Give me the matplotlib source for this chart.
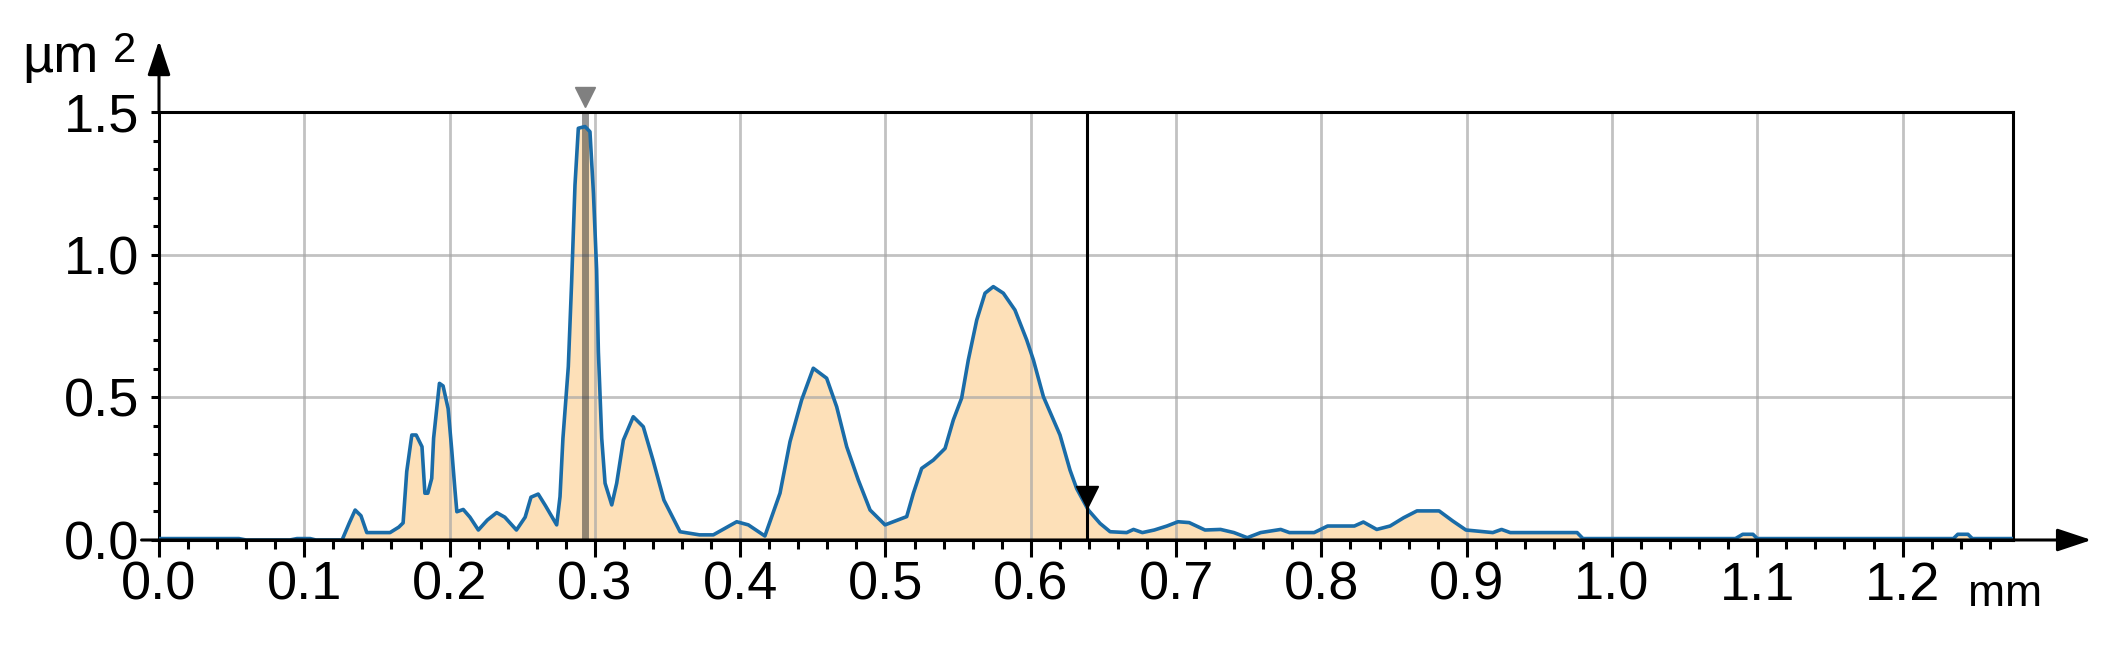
import numpy as np
import matplotlib
matplotlib.use("Agg")
import matplotlib.pyplot as plt
from matplotlib.ticker import MultipleLocator, FormatStrFormatter

plt.rcParams["font.family"] = ["Liberation Sans", "DejaVu Sans"]

# Power spectrum values (x in mm, y in um^2)
pos_mm = [0.000, 0.055, 0.060, 0.090, 0.095, 0.104, 0.108, 0.126, 0.131, 0.135,
          0.139, 0.143, 0.159, 0.165, 0.168, 0.1705, 0.174, 0.177, 0.181, 0.183,
          0.185, 0.1877, 0.189, 0.193, 0.1955, 0.199, 0.2014, 0.2037, 0.205, 0.2094,
          0.214, 0.2198, 0.226, 0.2324, 0.238, 0.246, 0.252, 0.256, 0.261, 0.266,
          0.2737, 0.276, 0.278, 0.2817, 0.284, 0.2863, 0.2886, 0.2932, 0.2966, 0.299,
          0.3012, 0.3024, 0.3047, 0.307, 0.3116, 0.315, 0.3196, 0.3264, 0.3333, 0.340,
          0.3475, 0.3586, 0.372, 0.3815, 0.3976, 0.4056, 0.417, 0.4274, 0.4343, 0.4423,
          0.4503, 0.4595, 0.4664, 0.4733, 0.4813, 0.4894, 0.4997, 0.5146, 0.5192, 0.5249,
          0.5329, 0.541, 0.5467, 0.5524, 0.557, 0.5628, 0.5685, 0.5742, 0.5811, 0.5891,
          0.5972, 0.6018, 0.6087, 0.6201, 0.627, 0.6316, 0.6396, 0.6477, 0.6546, 0.666,
          0.6707, 0.6768, 0.685, 0.6937, 0.7013, 0.709, 0.7199, 0.7306, 0.7398, 0.749,
          0.7582, 0.772, 0.778, 0.795, 0.8043, 0.8227, 0.8289, 0.8381, 0.8473, 0.8566,
          0.8658, 0.881, 0.8903, 0.8995, 0.918, 0.924, 0.930, 0.976, 0.980, 1.085,
          1.090, 1.097, 1.100, 1.235, 1.238, 1.245, 1.248, 1.276]
power = [0.005, 0.005, 0.000, 0.000, 0.005, 0.005, 0.000, 0.000, 0.060, 0.105,
         0.085, 0.026, 0.026, 0.045, 0.060, 0.240, 0.368, 0.368, 0.327, 0.164,
         0.164, 0.216, 0.357, 0.549, 0.540, 0.460, 0.320, 0.175, 0.099, 0.107,
         0.080, 0.035, 0.070, 0.096, 0.080, 0.035, 0.080, 0.150, 0.161, 0.120,
         0.053, 0.152, 0.356, 0.607, 0.905, 1.244, 1.443, 1.449, 1.431, 1.215,
         0.946, 0.660, 0.356, 0.199, 0.123, 0.199, 0.350, 0.432, 0.397, 0.280,
         0.140, 0.029, 0.018, 0.018, 0.064, 0.053, 0.014, 0.164, 0.345, 0.491,
         0.602, 0.567, 0.467, 0.327, 0.210, 0.105, 0.053, 0.082, 0.164, 0.251,
         0.280, 0.321, 0.421, 0.497, 0.631, 0.771, 0.865, 0.888, 0.865, 0.806,
         0.701, 0.631, 0.502, 0.368, 0.245, 0.180, 0.105, 0.058, 0.029, 0.026,
         0.037, 0.026, 0.035, 0.049, 0.064, 0.061, 0.035, 0.037, 0.026, 0.008,
         0.026, 0.037, 0.026, 0.026, 0.049, 0.049, 0.063, 0.037, 0.049, 0.078,
         0.102, 0.102, 0.067, 0.035, 0.026, 0.037, 0.026, 0.026, 0.005, 0.005,
         0.020, 0.020, 0.005, 0.005, 0.020, 0.020, 0.005, 0.005]

x_ticks = [0.0, 0.1, 0.2, 0.3, 0.4, 0.5, 0.6, 0.7, 0.8, 0.9, 1.0, 1.1, 1.2]
y_ticks = [0.0, 0.5, 1.0, 1.5]

# cursor positions
peak_cursor = 0.2935
cut_cursor = 0.639
cut_value = 0.15
x_max = 1.276
y_max = 1.5

fig = plt.figure(figsize=(21.11, 6.53), dpi=100)
ax = fig.add_axes([159 / 2111, 1 - 540 / 653, (2013 - 159) / 2111, (540 - 112) / 653])

ax.fill_between(pos_mm, power, 0, color="#fde0b8", lw=0, zorder=1)
ax.grid(True, which="major", color="#a8a8a8", alpha=0.7, lw=2.0, zorder=1.5)
ax.axvline(peak_cursor, color="#3a3a3a", alpha=0.55, lw=5, zorder=2)
ax.plot(pos_mm, power, color="#1a6ca8", lw=2.6, zorder=3)
ax.axvline(cut_cursor, color="black", lw=2.2, zorder=4)
ax.plot([cut_cursor], [cut_value], marker="v", color="black", ms=16, zorder=5)
ax.plot([peak_cursor], [1.553], marker="v", color="#808080", ms=14, zorder=5, clip_on=False)

ax.set_xlim(0, x_max)
ax.set_ylim(0, y_max)
ax.set_xticks(x_ticks)
ax.set_yticks(y_ticks)
ax.xaxis.set_major_formatter(FormatStrFormatter("%.1f"))
ax.yaxis.set_major_formatter(FormatStrFormatter("%.1f"))
ax.xaxis.set_minor_locator(MultipleLocator(0.02))
ax.yaxis.set_minor_locator(MultipleLocator(0.1))

ax.tick_params(axis="x", which="major", direction="out", length=12, width=2.2, pad=3, labelsize=39)
ax.tick_params(axis="x", which="minor", direction="out", length=6.5, width=2.2)
ax.tick_params(axis="y", which="major", direction="out", length=6, width=2.2, pad=8.4, labelsize=39)
ax.tick_params(axis="y", which="minor", direction="out", length=4, width=2.2)

for side in ["left", "right", "top", "bottom"]:
    ax.spines[side].set_color("black")
    ax.spines[side].set_linewidth(2.2)

# axis arrows
arrow = dict(arrowstyle="-|>,head_length=0.6,head_width=0.2", color="black", lw=2.2,
             mutation_scale=35, shrinkA=0, shrinkB=0)
ax.annotate("", xy=(1.330, 0), xytext=(-0.012, 0), arrowprops=arrow, annotation_clip=False)
ax.annotate("", xy=(0, 1.75), xytext=(0, 1.5), arrowprops=arrow, annotation_clip=False)

# units
fig.text(22 / 2111, 1 - 72 / 653, "µm", fontsize=39, va="baseline", ha="left")
fig.text(113 / 2111, 1 - 62 / 653, "2", fontsize=30, va="baseline", ha="left")
fig.text(1968 / 2111, 1 - 606 / 653, "mm", fontsize=32, va="baseline", ha="left")

fig.savefig("out.png", dpi=100)
